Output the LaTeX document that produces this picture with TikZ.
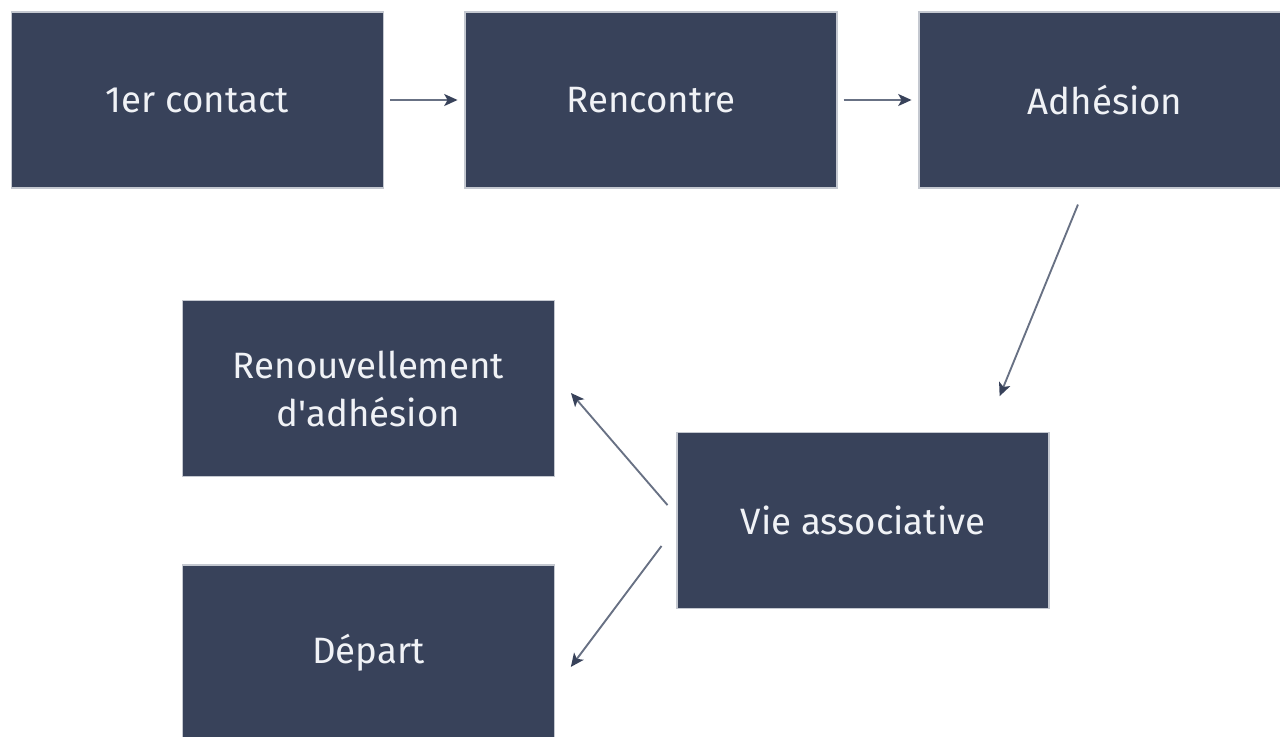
\documentclass[tikz,border=0pt]{standalone}
\usepackage{fontspec}
\setmainfont{Fira Sans}[Ligatures=TeXOff]
\usetikzlibrary{arrows.meta,calc}
\definecolor{boite}{RGB}{56,66,90}
\definecolor{bord}{RGB}{196,200,208}
\definecolor{trait}{RGB}{104,113,132}
\definecolor{texte}{RGB}{240,242,246}
\newcommand{\fleche}{-{Stealth[length=10pt,width=9pt,inset=2.5pt,color=boite]}}

\begin{document}
\begin{tikzpicture}[x=.75pt,y=-.75pt,
  etape/.style={fill=boite,draw=bord,line width=.8pt,text=texte,
    minimum width=279pt,minimum height=132pt,inner sep=0pt,
    align=center,font=\fontsize{27.5}{36}\selectfont},
  lien/.style={draw=trait,line width=1.4pt}]
\clip (0,0) rectangle (1280,736);
\fill[white] (0,0) rectangle (1280,736);
%les etapes
\node[etape] (contact) at (197.5,100) {1er contact};
\node[etape] (rencontre) at (651,100) {Rencontre};
\node[etape] (adh) at (1105,100) {Adhésion};
\node[etape] (vie) at (863,520.5) {Vie associative};
\node[etape] (ren) at (368.5,388.5) {Renouvellement\\d'adhésion};
\node[etape] (dep) at (368.5,653) {Départ};
%les fleches
\draw[lien,\fleche,shorten <=4.5pt,shorten >=5.2pt] (contact) -- (rencontre);
\draw[lien,\fleche,shorten <=4.5pt,shorten >=5.2pt] (rencontre) -- (adh);
\draw[lien,\fleche,shorten <=13pt,shorten >=29pt] ($(adh.south)+(-20.5,0)$) -- ($(vie.north)+(122,0)$);
\draw[lien,\fleche,shorten <=10.3pt,shorten >=18.3pt] ($(vie.west)+(0,-5)$) -- ($(ren.east)+(0,-14)$);
\draw[lien,\fleche,shorten <=18.7pt,shorten >=19.8pt] ($(vie.west)+(0,5.5)$) -- ($(dep.east)+(0,35)$);
\end{tikzpicture}
\end{document}
